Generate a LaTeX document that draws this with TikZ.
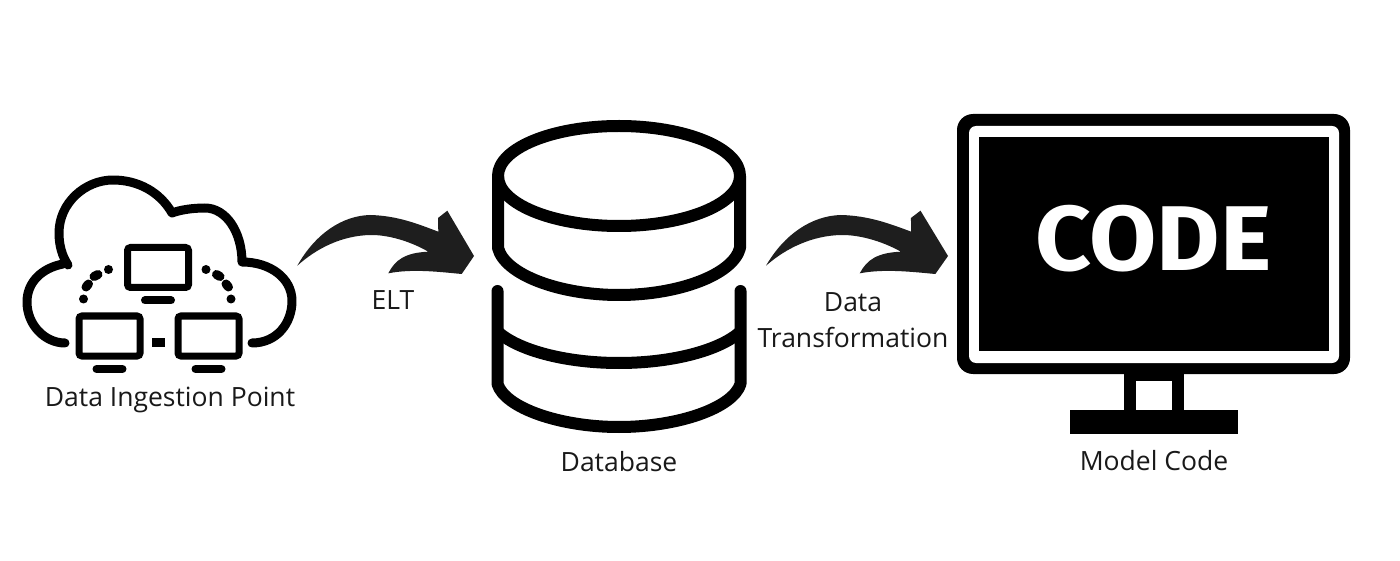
\documentclass[tikz,border=0pt]{standalone}
\usepackage{fontspec}
\setmainfont{Open Sans}
\newfontfamily\codefont{Fira Sans}
\usetikzlibrary{positioning}
\definecolor{inkblack}{RGB}{0,0,0}
\definecolor{swooshgray}{RGB}{30,30,30}
\definecolor{labelgray}{RGB}{25,25,25}
\tikzstyle{iconbox} = [rectangle, inner sep=0pt, outer sep=0pt]
\tikzstyle{caption} = [inner sep=0pt, text=labelgray, font=\fontsize{26.5}{26.5}\selectfont, align=center]
\tikzstyle{outline} = [draw=inkblack, line width=9pt, line cap=round, line join=round]
\tikzstyle{drum} = [draw=inkblack, line width=12pt, line join=round]
\tikzset{
  minipc/.pic={
    \draw[draw=inkblack, line width=7pt, rounded corners=3pt] (-30.5,-20) rectangle (30.5,20);
    \draw[draw=inkblack, line width=8pt, line cap=round] (-13,33) -- (13,33);
  },
  swoosh/.pic={
    \fill[swooshgray] (0,0) .. controls (18,-32) and (45,-50) .. (72.7,-50.7)
      .. controls (100,-50) and (120,-42) .. (141,-34) -- (140.7,-47.7) -- (150,-55)
      -- (176.7,-9.7) -- (164.4,8.3) .. controls (140,6) and (115,3) .. (91,7.6)
      .. controls (98,-6) and (108,-13) .. (131,-14)
      .. controls (112,-25) and (90,-31) .. (72.7,-30.7)
      .. controls (45,-30) and (20,-18) .. (0,0) -- cycle;
  }
}
\begin{document}
\begin{tikzpicture}[x=1pt, y=-1pt]
\useasboundingbox[fill=white] (0,0) rectangle (1400,561);
% Icon areas
\node[iconbox, minimum width=274pt, minimum height=240pt] (cloud) at (159,265.7) {};
\node[iconbox, minimum width=254pt, minimum height=312pt] (database) at (619,276) {};
\node[iconbox, minimum width=393pt, minimum height=320pt] (monitor) at (1153.5,265.7) {};

% Cloud
\draw[outline] (252,343) .. controls (277,343) and (292,323) .. (292,301)
  .. controls (292,278) and (270,262) .. (242,262)
  .. controls (242,232) and (226,208) .. (205,208)
  .. controls (192,208) and (180,210) .. (172,213)
  .. controls (160,192) and (138,180) .. (113,180)
  .. controls (85,180) and (59,203) .. (59,233) .. controls (59,245) and (62,256) .. (68,265);
\draw[outline] (63,264) .. controls (42,268) and (27,282) .. (27,302)
  .. controls (27,325) and (45,343) .. (65,343);
\foreach \pcx/\pcy in {158/267.5, 109.5/336, 208.5/336}
  \pic at (\pcx,\pcy) {minipc};
\fill[inkblack] (152.3,338.3) rectangle (165,346.7);
\foreach \dotx/\doty/\dotu/\dotv in {83.5/299/83.5/299, 86/287/88.5/284, 94/276.5/98/274.5, 108.5/269.5/108.5/269.5, 231/299/231/299, 228.5/287/226/284, 220/276.5/216.5/274.5, 206/269.5/206/269.5}
  \draw[draw=inkblack, line width=9pt, line cap=round] (\dotx,\doty) -- (\dotu,\dotv);

% Database
\draw[drum] (619,176) ellipse (121pt and 50pt);
\draw[drum] (498,176) -- (498,248) .. controls (505,275) and (560,295) .. (619,295)
  .. controls (678,295) and (733,275) .. (740,248) -- (740,176);
\draw[drum] (498,332) .. controls (518,350) and (565,363) .. (619,363)
  .. controls (673,363) and (720,350) .. (740,332);
\draw[drum, line cap=round] (497.5,291) -- (497.5,384) .. controls (505,408) and (560,427) .. (619,427)
  .. controls (678,427) and (733,408) .. (740.5,384) -- (740.5,291);

% Monitor
\fill[inkblack, rounded corners=16pt] (957,114) rectangle (1350,374);
\fill[white, rounded corners=7pt] (969,126) rectangle (1339,363);
\fill[inkblack] (978.5,137) rectangle (1329,351);
\fill[inkblack] (1124,374) rectangle (1184,412);
\fill[white] (1136,381) rectangle (1172,410);
\fill[inkblack] (1069.5,410) rectangle (1238,434);
\node[inner sep=0pt, text=white, transform shape, xscale=1.06, font=\fontsize{92}{92}\selectfont\codefont\bfseries] (code) at (1153.5,238.5) {CODE};

% Connectors
\pic at ([xshift=1.3pt]cloud.east) {swoosh};
\pic[xscale=1.03] at ([xshift=-191pt]monitor.west) {swoosh};

% Labels
\node[caption] (cloudlabel) at (170,400) {Data Ingestion Point};
\node[caption] (eltlabel) at (393,300) {ELT};
\node[caption, below=19pt of database] (dblabel) {Database};
\node[caption] (translabel) at (853,320) {Data\\[9pt]Transformation};
\node[caption] (codelabel) at (1154,461) {Model Code};
\end{tikzpicture}
\end{document}
